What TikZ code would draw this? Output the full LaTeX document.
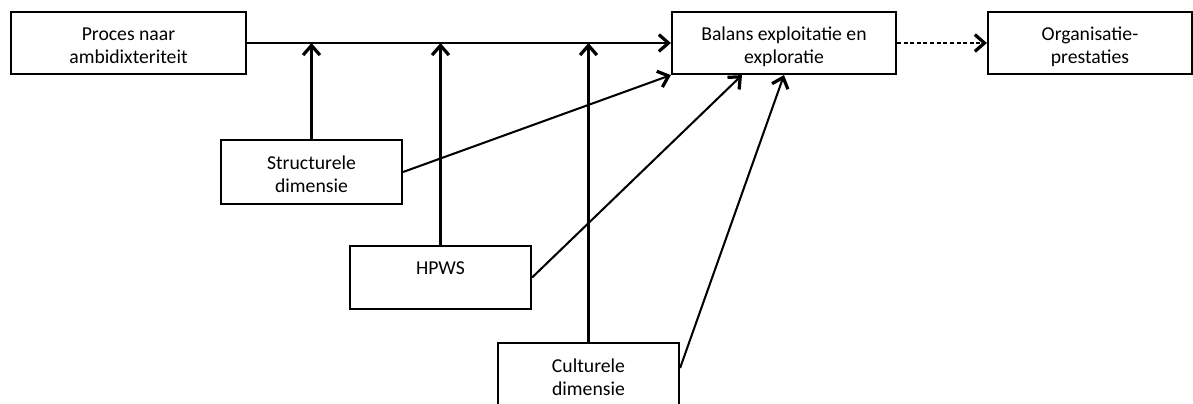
\documentclass[tikz,border=0pt]{standalone}
\usepackage{fontspec}
\setmainfont{Carlito}
\usetikzlibrary{arrows.meta}
\begin{document}
\begin{tikzpicture}[x=0.025cm, y=-0.025cm,
	box/.style={draw, line width=1.5pt, align=center, inner sep=0pt,
		font=\fontsize{14}{16.3}\selectfont, text height=28.5pt, text depth=0pt},
	arr/.style={line width=1.45pt, -{Straight Barb[length=2.4mm,width=4.2mm,line width=2.3pt]}}]
	\useasboundingbox (0,0) rectangle (1193,403);

	\node[box, minimum width=5.875cm, minimum height=1.55cm] (pr)  at (128.5,43)  {Proces naar\\ambidixteriteit};
	\node[box, minimum width=5.6cm,   minimum height=1.55cm] (bal) at (784,43)    {Balans exploitatie en\\exploratie};
	\node[box, minimum width=5.1cm,   minimum height=1.55cm] (org) at (1090,43)   {Organisatie-\\prestaties};
	\node[box, minimum width=4.525cm, minimum height=1.6cm]  (str) at (311.5,172) {Structurele\\dimensie};
	\node[box, minimum width=4.525cm, minimum height=1.58cm] (hp)  at (440.5,277.5) {HPWS\\~};
	\node[box, minimum width=4.525cm, minimum height=1.6cm]  (cul) at (588.5,375) {Culturele\\dimensie};

	\draw[arr] (pr.east) -- (bal.west);
	\draw[arr, dash pattern=on 0.1cm off 0.065cm] (bal.east) -- (org.west);

	\draw[arr] (str.north) -- (str.north |- pr.east);
	\draw[arr] (hp.north)  -- (hp.north |- pr.east);
	\draw[arr] (cul.north) -- (cul.north |- pr.east);

	\draw[arr] (str.east) -- (bal.south west);
	\draw[arr] (hp.east)  -- ([xshift=-1.05cm]bal.south);
	\draw[arr] ([yshift=0.175cm]cul.east) -- (bal.south);
\end{tikzpicture}
\end{document}
